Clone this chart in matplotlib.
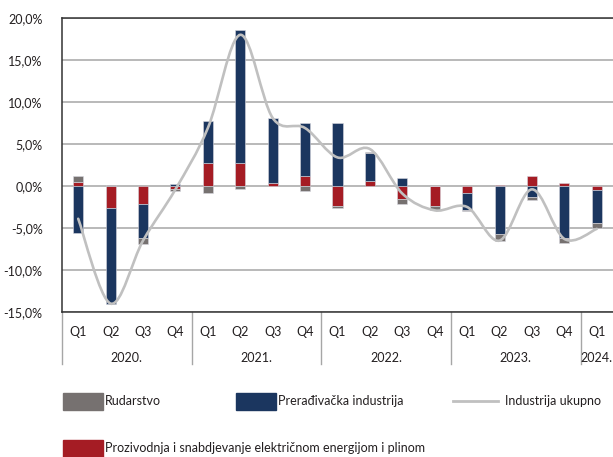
import numpy as np
import matplotlib
matplotlib.use("Agg")
import matplotlib.pyplot as plt
from matplotlib.path import Path
from matplotlib.patches import PathPatch, Rectangle
from matplotlib.lines import Line2D
import matplotlib.transforms as mtransforms

plt.rcParams['font.family'] = ['Lato', 'DejaVu Sans']

# quarterly data, 2020 Q1 - 2024 Q1 (contributions, %)
quarters = ['Q1', 'Q2', 'Q3', 'Q4'] * 4 + ['Q1']
years = ['2020.', '2021.', '2022.', '2023.', '2024.']
year_centers = [1.5, 5.5, 9.5, 13.5, 16]

rudarstvo = [0.68, 0.16, -0.72, -0.2, -0.8, -0.4, 0.0, -0.56, -0.2, 0.2, -0.6,
             -0.52, -0.2, -0.9, -0.4, -0.6, -0.6]
preradjivacka = [-5.56, -11.4, -4.0, 0.2, 4.96, 15.9, 7.76, 6.28, 7.52, 3.3, 0.92,
                 0.0, -2.0, -5.7, -1.25, -6.17, -4.0]
energija = [0.48, -2.64, -2.2, -0.4, 2.72, 2.72, 0.3, 1.2, -2.4, 0.6, -1.6,
            -2.36, -0.8, 0.16, 1.16, 0.36, -0.44]
ukupno = [-3.9, -14.0, -6.5, -0.4, 6.9, 18.0, 8.1, 6.9, 3.4, 4.4, -0.9,
          -2.9, -2.5, -6.5, -0.4, -6.3, -5.1]

c_rud = '#767170'
c_pre = '#1b365f'
c_ene = '#a51c24'
c_line = '#c0c0c0'
c_text = '#231f20'
fs = 9

fig = plt.figure(figsize=(6.13, 4.57), dpi=100)
W, H = 613, 457
ax = fig.add_axes([62 / W, 1 - 312 / H, 1 - 62 / W, 294 / H])

x = np.arange(len(quarters))
width = 0.31

# stack positives and negatives separately: energija, preradjivacka, rudarstvo
pos_base = np.zeros(len(x))
neg_base = np.zeros(len(x))
for vals, col in [(energija, c_ene), (preradjivacka, c_pre), (rudarstvo, c_rud)]:
    v = np.array(vals)
    base = np.where(v >= 0, pos_base, neg_base)
    ax.bar(x, v, width, bottom=base, color=col, edgecolor='#d8d8e0',
           linewidth=0.4, zorder=3)
    pos_base += np.where(v >= 0, v, 0)
    neg_base += np.where(v < 0, v, 0)

# smoothed line (Excel-like) through the total values
pts = np.column_stack([x, ukupno]).astype(float)
ext = np.vstack([pts[0], pts, pts[-1]])
verts = [tuple(pts[0])]
codes = [Path.MOVETO]
for i in range(len(pts) - 1):
    p0, p1, p2, p3 = ext[i], ext[i + 1], ext[i + 2], ext[i + 3]
    c1 = p1 + (p2 - p0) / 6
    c2 = p2 - (p3 - p1) / 6
    verts += [tuple(c1), tuple(c2), tuple(p2)]
    codes += [Path.CURVE4] * 3
ax.add_patch(PathPatch(Path(verts, codes), facecolor='none', edgecolor=c_line,
                       linewidth=1.9, zorder=4, capstyle='round'))

ax.set_xlim(-0.5, len(x) - 0.5)
ax.set_ylim(-15, 20)
ax.set_yticks(np.arange(-15, 21, 5))
ax.set_yticklabels([f'{v:.1f}%'.replace('.', ',') for v in np.arange(-15, 21, 5)],
                   fontsize=fs, color=c_text)
ax.tick_params(axis='y', length=0, pad=14)
ax.set_xticks([])
ax.yaxis.grid(True, color='#a6a6a6', linewidth=1.1, zorder=0)
ax.set_axisbelow(True)
for s in ['left', 'bottom', 'top']:
    ax.spines[s].set_color('#333333')
    ax.spines[s].set_linewidth(1.1)
ax.spines['right'].set_visible(False)

# two-level category axis
trans = mtransforms.blended_transform_factory(ax.transData, ax.transAxes)
for i, q in enumerate(quarters):
    ax.text(i, -0.067, q, transform=trans, ha='center', va='center',
            fontsize=fs, color=c_text)
for yc, yl in zip(year_centers, years):
    ax.text(yc, -0.157, yl, transform=trans, ha='center', va='center',
            fontsize=fs, color=c_text)
for sx in [-0.5, 3.5, 7.5, 11.5, 15.5]:
    ax.plot([sx, sx], [0, -0.177], transform=trans, color='#a6a6a6',
            linewidth=1.0, clip_on=False)

# legend
def fx(px):
    return px / W

def fy(py):
    return 1 - py / H

legend_items = [
    ('patch', c_rud, 'Rudarstvo', 63, 401),
    ('patch', c_pre, 'Prerađivačka industrija', 236, 401),
    ('line', c_line, 'Industrija ukupno', 453, 401),
    ('patch', c_ene, 'Prozivodnja i snabdjevanje električnom energijom i plinom', 63, 448),
]
for kind, col, label, px, py in legend_items:
    if kind == 'patch':
        fig.patches.append(Rectangle((fx(px), fy(py + 8.5)), 40 / W, 17 / H,
                                     transform=fig.transFigure, color=col))
        fig.text(fx(px + 42), fy(py), label, ha='left', va='center',
                 fontsize=fs, color=c_text)
    else:
        fig.lines.append(Line2D([fx(px), fx(px + 45)], [fy(py), fy(py)],
                                transform=fig.transFigure, color=col,
                                linewidth=2))
        fig.text(fx(px + 52), fy(py), label, ha='left', va='center',
                 fontsize=fs, color=c_text)

fig.savefig('out.png', dpi=100)
